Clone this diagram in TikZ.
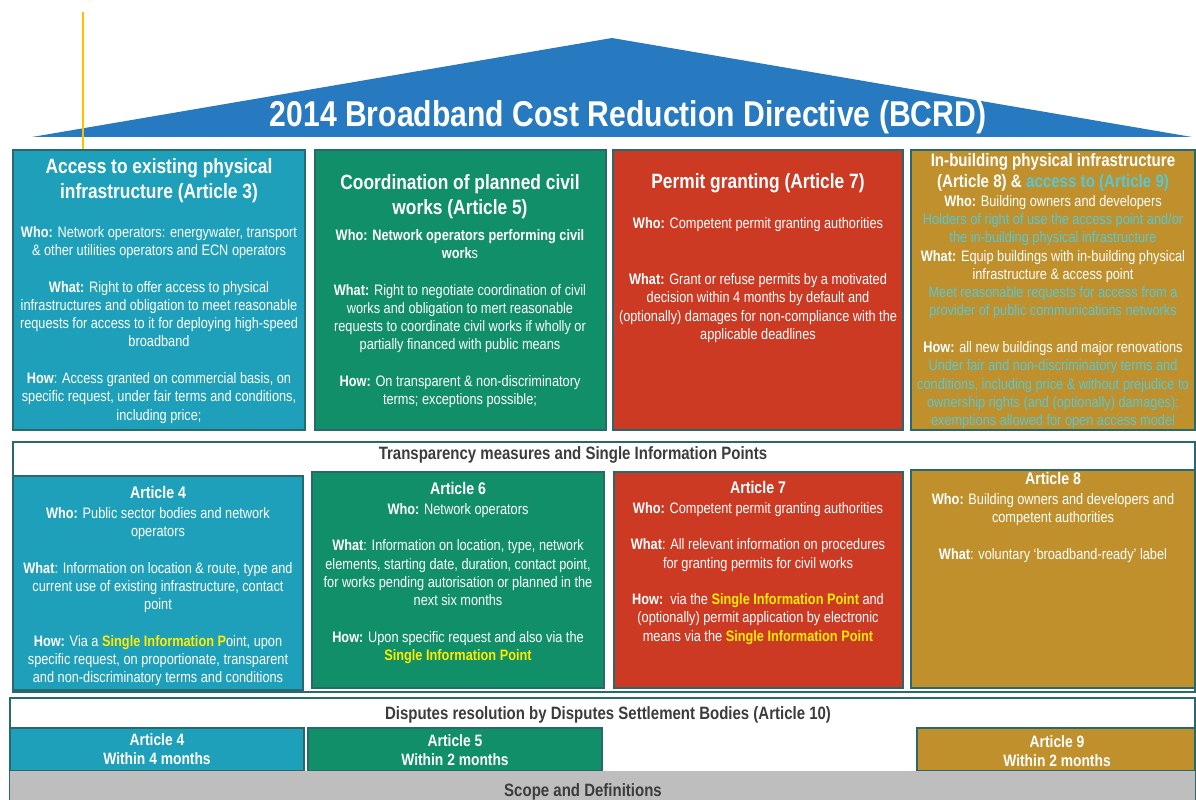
\documentclass[tikz,border=0pt]{standalone}
\usepackage{fontspec}
\setmainfont{Liberation Sans}[FakeStretch=0.84]
\usetikzlibrary{fit}

\definecolor{roofblue}{RGB}{40,122,192}
\definecolor{artblue}{RGB}{31,160,186}
\definecolor{artgreen}{RGB}{16,143,104}
\definecolor{artred}{RGB}{204,58,36}
\definecolor{artgold}{RGB}{192,144,44}
\definecolor{edgecol}{RGB}{40,105,110}
\definecolor{accesscyan}{RGB}{85,200,215}
\definecolor{sipyellow}{RGB}{255,235,0}
\definecolor{headgray}{RGB}{60,60,60}
\definecolor{scopegray}{RGB}{190,190,190}
\definecolor{markyellow}{RGB}{255,192,0}

\newcommand{\emptyrow}{\\[13pt]}
\newcommand{\infopt}[1]{\textcolor{sipyellow}{\textbf{#1}}}
\newcommand{\acc}[1]{\textcolor{accesscyan}{#1}}

\tikzset{
  panel/.style={draw=edgecol, line width=0.9pt, inner sep=0pt},
  frame/.style={draw=edgecol, line width=0.9pt, fill=white, inner sep=0pt},
  rooftitle/.style={text=white, inner sep=0pt, font=\fontsize{25.5}{30}\selectfont\bfseries},
  boxtitle/.style={text=white, align=center, anchor=north, inner sep=0pt, font=\fontsize{14.7}{17.8}\selectfont\bfseries},
  boxbody/.style={text=white, align=center, anchor=north, inner sep=0pt, font=\fontsize{10.8}{13}\selectfont},
  bandhead/.style={text=headgray, inner sep=0pt, font=\fontsize{12.7}{14}\selectfont\bfseries},
  timetext/.style={text=white, align=center, inner sep=0pt, font=\fontsize{11.7}{14}\selectfont\bfseries},
  markline/.style={draw=markyellow, line width=1.6pt}
}

\begin{document}
\begin{tikzpicture}[x=0.025cm, y=-0.025cm]
\useasboundingbox (0,0) rectangle (1196,800);

% roof with the directive title
\fill[roofblue] (32,137) -- (612,38) -- (1192,137) -- cycle;
\draw[markline] (83,12) -- (83,150);
\node[rooftitle] (bcrd) at (628,117) {2014 Broadband Cost Reduction Directive (BCRD)};

% top row: the four pillars
\node[panel, fill=artblue, fit={(13,150) (305,430)}] (art3) {};
\node[boxtitle] (art3title) at (159,158) {Access to existing physical\\infrastructure (Article 3)};
\node[boxbody] (art3text) at (159,226) {\textbf{Who:} Network operators: energywater, transport\\\& other utilities operators and ECN operators\emptyrow
  \textbf{What:} Right to offer access to physical\\infrastructures and obligation to meet reasonable\\requests for access to it for deploying high-speed\\broadband\emptyrow
  \textbf{How}: Access granted on commercial basis, on\\specific request, under fair terms and conditions,\\including price;};

\node[panel, fill=artgreen, fit={(315,150) (606,430)}] (art5) {};
\node[boxtitle] (art5title) at (460,174) {Coordination of planned civil\\works (Article 5)};
\node[boxbody] (art5text) at (460,229) {\textbf{Who:} \textbf{Network operators performing civil}\\\textbf{work}s\emptyrow
  \textbf{What:} Right to negotiate coordination of civil\\works and obligation to mert reasonable\\requests to coordinate civil works if wholly or\\partially financed with public means\emptyrow
  \textbf{How:} On transparent \& non-discriminatory\\terms; exceptions possible;};

\node[panel, fill=artred, fit={(613,150) (903,430)}] (art7) {};
\node[boxtitle] (art7title) at (758,173) {Permit granting (Article 7)};
\node[boxbody] (art7text) at (758,217) {\textbf{Who:} Competent permit granting authorities\\[27pt]
  \textbf{What:} Grant or refuse permits by a motivated\\decision within 4 months by default and\\(optionally) damages for non-compliance with the\\applicable deadlines};

\node[panel, fill=artgold, fit={(911,150) (1195,430)}] (art89) {};
\node[boxtitle, font=\fontsize{12.8}{15}\selectfont\bfseries] (art89title) at (1053,153) {In-building physical infrastructure\\(Article 8) \& \acc{access to (Article 9)}};
\node[boxbody] (art89text) at (1053,195) {\textbf{Who:} Building owners and developers\\\acc{Holders of right of use the access point and/or}\\\acc{the in-building physical infrastructure}\\
  \textbf{What:} Equip buildings with in-building physical\\infrastructure \& access point\\\acc{Meet reasonable requests for access from a}\\\acc{provider of public communications networks}\emptyrow
  \textbf{How:} all new buildings and major renovations\\\acc{Under fair and non-discriminatory terms and}\\\acc{conditions, including price \& without prejudice to}\\\acc{ownership rights (and (optionally) damages);}\\\acc{exemptions allowed for open access model}};

% middle band: transparency measures
\node[frame, fit={(13,442) (1195,692)}] (transp) {};
\node[bandhead] (transphead) at (573,455) {Transparency measures and Single Information Points};

\node[panel, fill=artblue, fit={(13,476) (303,690)}] (art4) {};
\node[boxbody] (art4text) at (158,486) {\textbf{\fontsize{12}{13}\selectfont Article 4}\\[1pt]
  \textbf{Who:} Public sector bodies and network\\operators\emptyrow
  \textbf{What}: Information on location \& route, type and\\current use of existing infrastructure, contact\\point\emptyrow
  \textbf{How:} Via a \infopt{Single Information P}oint, upon\\specific request, on proportionate, transparent\\and non-discriminatory terms and conditions};

\node[panel, fill=artgreen, fit={(312,472) (604,688)}] (art6) {};
\node[boxbody] (art6text) at (458,482) {\textbf{\fontsize{12}{13}\selectfont Article 6}\\[1pt]
  \textbf{Who:} Network operators\emptyrow
  \textbf{What}: Information on location, type, network\\elements, starting date, duration, contact point,\\for works pending autorisation or planned in the\\next six months\emptyrow
  \textbf{How:} Upon specific request and also via the\\\infopt{Single Information Point}};

\node[panel, fill=artred, fit={(614,472) (903,688)}] (art7b) {};
\node[boxbody] (art7btext) at (758,481) {\textbf{\fontsize{12}{13}\selectfont Article 7}\\[1pt]
  \textbf{Who:} Competent permit granting authorities\emptyrow
  \textbf{What}: All relevant information on procedures\\for granting permits for civil works\emptyrow
  \textbf{How:}\ \ via the \infopt{Single Information Point} and\\(optionally) permit application by electronic\\means via the \infopt{Single Information Point}};

\node[panel, fill=artgold, fit={(911,470) (1195,688)}] (art8) {};
\node[boxbody] (art8text) at (1053,472) {\textbf{\fontsize{12}{13}\selectfont Article 8}\\[1pt]
  \textbf{Who:} Building owners and developers and\\competent authorities\emptyrow
  \textbf{What}: voluntary `broadband-ready' label};

% bottom band: disputes resolution and scope
\node[frame, fit={(10,698) (1195,800)}] (disp) {};
\node[bandhead] (disphead) at (608,715) {Disputes resolution by Disputes Settlement Bodies (Article 10)};

\node[panel, fill=artblue, fit={(10,728) (304,771)}] (dispart4) {};
\node[timetext] (dispart4text) at (157,749) {Article 4\\Within 4 months};
\node[panel, fill=artgreen, fit={(308,728) (602,771)}] (dispart5) {};
\node[timetext] (dispart5text) at (455,750) {Article 5\\Within 2 months};
\node[panel, fill=artgold, fit={(917,728) (1195,771)}] (dispart9) {};
\node[timetext] (dispart9text) at (1057,751) {Article 9\\Within 2 months};

\node[fill=scopegray, inner sep=0pt, fit={(10,771) (1195,800)}] (scope) {};
\node[bandhead] (scopetext) at (583,792) {Scope and Definitions};
\end{tikzpicture}
\end{document}
